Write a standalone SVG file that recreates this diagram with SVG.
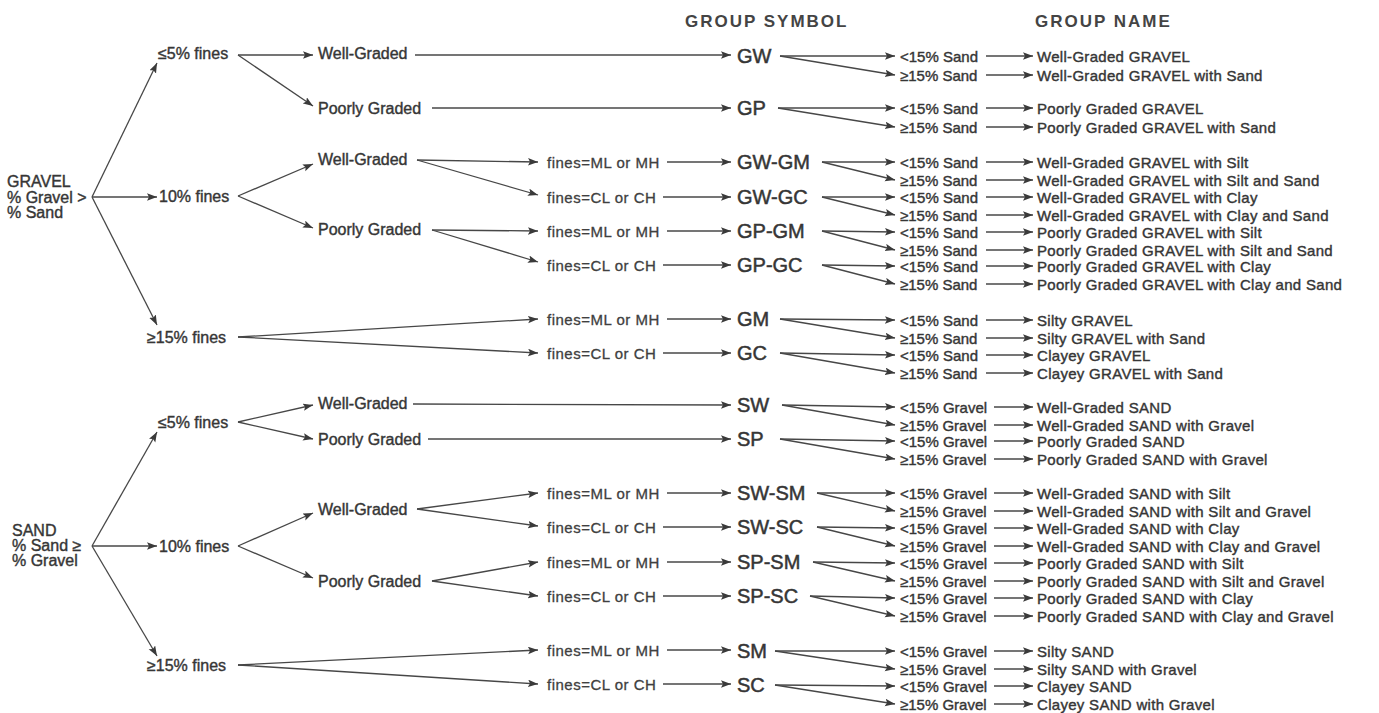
<svg xmlns="http://www.w3.org/2000/svg" width="1379" height="713" viewBox="0 0 1379 713">
<style>
text{font-family:"Liberation Sans",Arial,sans-serif;fill:#363636;stroke:#363636;stroke-width:0.4px}
.t16{font-size:16px}
.t15{font-size:15px}
.fn{font-size:15px;letter-spacing:0.5px;fill:#404040;stroke:#404040;stroke-width:0.3px}
.nm{font-size:15px;letter-spacing:0.3px}
.sym{font-size:20px;stroke-width:0.5px}
.hdr{font-size:17px;font-weight:bold;letter-spacing:2px;fill:#444;stroke:none}
#connectors path{stroke:#474747;stroke-width:1.3;fill:none}
#connectors path.a{marker-end:url(#ah)}
</style>
<defs>
<marker id="ah" markerUnits="userSpaceOnUse" markerWidth="11" markerHeight="8" refX="10" refY="3.75" orient="auto">
<path d="M0,0 L10,3.75 L0,7.5 L2,3.75 z" fill="#3a3a3a"/>
</marker>
</defs>
<rect width="1379" height="713" fill="#ffffff"/>
<g id="headers">
<text class="hdr" x="685" y="27">GROUP SYMBOL</text>
<text class="hdr" x="1035" y="27">GROUP NAME</text>
</g>
<g id="connectors">
<!-- level 0 -->
<path class="a" d="M92,197 L157,63"/>
<path class="a" d="M92,197 L157,197"/>
<path class="a" d="M92,197 L157,325"/>
<path class="a" d="M92,546 L157,432"/>
<path class="a" d="M92,546 L157,546"/>
<path class="a" d="M92,546 L157,656"/>
<!-- level 1 -->
<path class="a" d="M238,55 L313,55"/>
<path class="a" d="M238,55 L313,106"/>
<path class="a" d="M238,196 L313,164"/>
<path class="a" d="M238,196 L313,228"/>
<path class="a" d="M238,337 L538,319"/>
<path class="a" d="M238,337 L538,353"/>
<path class="a" d="M238,422 L313,405"/>
<path class="a" d="M238,422 L313,439"/>
<path class="a" d="M238,546 L313,513"/>
<path class="a" d="M238,546 L313,578"/>
<path class="a" d="M238,665 L538,650"/>
<path class="a" d="M238,665 L538,684"/>
<!-- level 2 -->
<path class="a" d="M415,55 L731,55"/>
<path class="a" d="M432,108 L731,108"/>
<path class="a" d="M417,160 L538,162"/>
<path class="a" d="M417,160 L538,195"/>
<path class="a" d="M432,230 L538,231"/>
<path class="a" d="M432,230 L538,262"/>
<path class="a" d="M413,404 L731,405"/>
<path class="a" d="M428,439 L731,439"/>
<path class="a" d="M417,509 L538,493"/>
<path class="a" d="M417,509 L538,526"/>
<path class="a" d="M432,581 L538,562"/>
<path class="a" d="M432,581 L538,596"/>
<!-- level 3 fines to symbol -->
<path class="a" d="M667,162 L731,162"/>
<path class="a" d="M663,197 L731,197"/>
<path class="a" d="M667,231 L731,231"/>
<path class="a" d="M663,265 L731,265"/>
<path class="a" d="M667,319 L731,319"/>
<path class="a" d="M663,353 L731,353"/>
<path class="a" d="M667,493 L731,493"/>
<path class="a" d="M663,527 L731,527"/>
<path class="a" d="M667,562 L731,562"/>
<path class="a" d="M663,596 L731,596"/>
<path class="a" d="M667,650 L731,650"/>
<path class="a" d="M663,684 L731,684"/>
<!-- level 4 symbol to sand/gravel percentage -->
<path class="a" d="M780,56 L895,56"/><path class="a" d="M780,56 L895,75"/>
<path class="a" d="M778,108 L895,108"/><path class="a" d="M778,108 L895,127"/>
<path class="a" d="M822,162 L895,162"/><path class="a" d="M822,162 L895,180"/>
<path class="a" d="M822,197 L895,197"/><path class="a" d="M822,197 L895,215"/>
<path class="a" d="M822,231 L895,232"/><path class="a" d="M822,231 L895,250"/>
<path class="a" d="M822,265 L895,266"/><path class="a" d="M822,265 L895,284"/>
<path class="a" d="M780,319 L895,320"/><path class="a" d="M780,319 L895,338"/>
<path class="a" d="M780,353 L895,355"/><path class="a" d="M780,353 L895,373"/>
<path class="a" d="M782,405 L895,407"/><path class="a" d="M782,405 L895,425"/>
<path class="a" d="M780,439 L895,441"/><path class="a" d="M780,439 L895,459"/>
<path class="a" d="M817,493 L895,493"/><path class="a" d="M817,493 L895,511"/>
<path class="a" d="M817,527 L895,528"/><path class="a" d="M817,527 L895,546"/>
<path class="a" d="M813,562 L895,563"/><path class="a" d="M813,562 L895,581"/>
<path class="a" d="M810,596 L895,598"/><path class="a" d="M810,596 L895,616"/>
<path class="a" d="M775,651 L895,651"/><path class="a" d="M775,651 L895,669"/>
<path class="a" d="M775,685 L895,686"/><path class="a" d="M775,685 L895,704"/>
<!-- level 5 percentage to group name -->
<path class="a" d="M986,56 L1033,56"/><path class="a" d="M986,75 L1033,75"/>
<path class="a" d="M986,108 L1033,108"/><path class="a" d="M986,127 L1033,127"/>
<path class="a" d="M986,162 L1033,162"/><path class="a" d="M986,180 L1033,180"/>
<path class="a" d="M986,197 L1033,197"/><path class="a" d="M986,215 L1033,215"/>
<path class="a" d="M986,232 L1033,232"/><path class="a" d="M986,250 L1033,250"/>
<path class="a" d="M986,266 L1033,266"/><path class="a" d="M986,284 L1033,284"/>
<path class="a" d="M986,320 L1033,320"/><path class="a" d="M986,338 L1033,338"/>
<path class="a" d="M986,355 L1033,355"/><path class="a" d="M986,373 L1033,373"/>
<path class="a" d="M994,407 L1033,407"/><path class="a" d="M994,425 L1033,425"/>
<path class="a" d="M994,441 L1033,441"/><path class="a" d="M994,459 L1033,459"/>
<path class="a" d="M994,493 L1033,493"/><path class="a" d="M994,511 L1033,511"/>
<path class="a" d="M994,528 L1033,528"/><path class="a" d="M994,546 L1033,546"/>
<path class="a" d="M994,563 L1033,563"/><path class="a" d="M994,581 L1033,581"/>
<path class="a" d="M994,598 L1033,598"/><path class="a" d="M994,616 L1033,616"/>
<path class="a" d="M994,651 L1033,651"/><path class="a" d="M994,669 L1033,669"/>
<path class="a" d="M994,686 L1033,686"/><path class="a" d="M994,704 L1033,704"/>
</g>
<!-- root nodes -->
<g id="n-gravel"><text class="t16" x="7" y="187">GRAVEL</text><text class="t16" x="7" y="203">% Gravel &gt;</text><text class="t16" x="7" y="218">% Sand</text></g>
<g id="n-sand"><text class="t16" x="12" y="536">SAND</text><text class="t16" x="12" y="551">% Sand ≥</text><text class="t16" x="12" y="566">% Gravel</text></g>
<!-- fines percentage -->
<g id="n-g-5"><text class="t16" x="158" y="59">≤5% fines</text></g>
<g id="n-g-10"><text class="t16" x="159" y="202">10% fines</text></g>
<g id="n-g-15"><text class="t16" x="147" y="343">≥15% fines</text></g>
<g id="n-s-5"><text class="t16" x="158" y="428">≤5% fines</text></g>
<g id="n-s-10"><text class="t16" x="159" y="552">10% fines</text></g>
<g id="n-s-15"><text class="t16" x="147" y="671">≥15% fines</text></g>
<!-- grading -->
<g id="n-g5-wg"><text class="t16" x="318" y="59">Well-Graded</text></g>
<g id="n-g5-pg"><text class="t16" x="318" y="114">Poorly Graded</text></g>
<g id="n-g10-wg"><text class="t16" x="318" y="165">Well-Graded</text></g>
<g id="n-g10-pg"><text class="t16" x="318" y="235">Poorly Graded</text></g>
<g id="n-s5-wg"><text class="t16" x="318" y="409">Well-Graded</text></g>
<g id="n-s5-pg"><text class="t16" x="318" y="445">Poorly Graded</text></g>
<g id="n-s10-wg"><text class="t16" x="318" y="515">Well-Graded</text></g>
<g id="n-s10-pg"><text class="t16" x="318" y="587">Poorly Graded</text></g>
<!-- fines type -->
<g id="n-f1"><text class="fn" x="547" y="167.5">fines=ML or MH</text></g>
<g id="n-f2"><text class="fn" x="547" y="202.5">fines=CL or CH</text></g>
<g id="n-f3"><text class="fn" x="547" y="236.5">fines=ML or MH</text></g>
<g id="n-f4"><text class="fn" x="547" y="270.5">fines=CL or CH</text></g>
<g id="n-f5"><text class="fn" x="547" y="324.5">fines=ML or MH</text></g>
<g id="n-f6"><text class="fn" x="547" y="358.5">fines=CL or CH</text></g>
<g id="n-f7"><text class="fn" x="547" y="498.5">fines=ML or MH</text></g>
<g id="n-f8"><text class="fn" x="547" y="532.5">fines=CL or CH</text></g>
<g id="n-f9"><text class="fn" x="547" y="567.5">fines=ML or MH</text></g>
<g id="n-f10"><text class="fn" x="547" y="601.5">fines=CL or CH</text></g>
<g id="n-f11"><text class="fn" x="547" y="655.5">fines=ML or MH</text></g>
<g id="n-f12"><text class="fn" x="547" y="689.5">fines=CL or CH</text></g>
<!-- group symbols -->
<g id="s-gw"><text class="sym" x="737" y="63">GW</text></g>
<g id="s-gp"><text class="sym" x="737" y="115">GP</text></g>
<g id="s-gwgm"><text class="sym" x="737" y="169">GW-GM</text></g>
<g id="s-gwgc"><text class="sym" x="737" y="204">GW-GC</text></g>
<g id="s-gpgm"><text class="sym" x="737" y="238">GP-GM</text></g>
<g id="s-gpgc"><text class="sym" x="737" y="272">GP-GC</text></g>
<g id="s-gm"><text class="sym" x="737" y="326">GM</text></g>
<g id="s-gc"><text class="sym" x="737" y="360">GC</text></g>
<g id="s-sw"><text class="sym" x="737" y="412">SW</text></g>
<g id="s-sp"><text class="sym" x="737" y="446">SP</text></g>
<g id="s-swsm"><text class="sym" x="737" y="500">SW-SM</text></g>
<g id="s-swsc"><text class="sym" x="737" y="534">SW-SC</text></g>
<g id="s-spsm"><text class="sym" x="737" y="569">SP-SM</text></g>
<g id="s-spsc"><text class="sym" x="737" y="603">SP-SC</text></g>
<g id="s-sm"><text class="sym" x="737" y="658">SM</text></g>
<g id="s-sc"><text class="sym" x="737" y="692">SC</text></g>
<!-- percentage of sand/gravel -->
<g id="p-gravel">
<text class="t15" x="900" y="61.5">&lt;15% Sand</text><text class="t15" x="900" y="80.5">≥15% Sand</text>
<text class="t15" x="900" y="113.5">&lt;15% Sand</text><text class="t15" x="900" y="132.5">≥15% Sand</text>
<text class="t15" x="900" y="167.5">&lt;15% Sand</text><text class="t15" x="900" y="185.5">≥15% Sand</text>
<text class="t15" x="900" y="202.5">&lt;15% Sand</text><text class="t15" x="900" y="220.5">≥15% Sand</text>
<text class="t15" x="900" y="237.5">&lt;15% Sand</text><text class="t15" x="900" y="255.5">≥15% Sand</text>
<text class="t15" x="900" y="271.5">&lt;15% Sand</text><text class="t15" x="900" y="289.5">≥15% Sand</text>
<text class="t15" x="900" y="325.5">&lt;15% Sand</text><text class="t15" x="900" y="343.5">≥15% Sand</text>
<text class="t15" x="900" y="360.5">&lt;15% Sand</text><text class="t15" x="900" y="378.5">≥15% Sand</text>
</g>
<g id="p-sand">
<text class="t15" x="900" y="412.5">&lt;15% Gravel</text><text class="t15" x="900" y="430.5">≥15% Gravel</text>
<text class="t15" x="900" y="446.5">&lt;15% Gravel</text><text class="t15" x="900" y="464.5">≥15% Gravel</text>
<text class="t15" x="900" y="498.5">&lt;15% Gravel</text><text class="t15" x="900" y="516.5">≥15% Gravel</text>
<text class="t15" x="900" y="533.5">&lt;15% Gravel</text><text class="t15" x="900" y="551.5">≥15% Gravel</text>
<text class="t15" x="900" y="568.5">&lt;15% Gravel</text><text class="t15" x="900" y="586.5">≥15% Gravel</text>
<text class="t15" x="900" y="603.5">&lt;15% Gravel</text><text class="t15" x="900" y="621.5">≥15% Gravel</text>
<text class="t15" x="900" y="656.5">&lt;15% Gravel</text><text class="t15" x="900" y="674.5">≥15% Gravel</text>
<text class="t15" x="900" y="691.5">&lt;15% Gravel</text><text class="t15" x="900" y="709.5">≥15% Gravel</text>
</g>
<!-- group names -->
<g id="names-gravel">
<text class="nm" x="1037" y="61.5">Well-Graded GRAVEL</text>
<text class="nm" x="1037" y="80.5">Well-Graded GRAVEL with Sand</text>
<text class="nm" x="1037" y="113.5">Poorly Graded GRAVEL</text>
<text class="nm" x="1037" y="132.5">Poorly Graded GRAVEL with Sand</text>
<text class="nm" x="1037" y="167.5">Well-Graded GRAVEL with Silt</text>
<text class="nm" x="1037" y="185.5">Well-Graded GRAVEL with Silt and Sand</text>
<text class="nm" x="1037" y="202.5">Well-Graded GRAVEL with Clay</text>
<text class="nm" x="1037" y="220.5">Well-Graded GRAVEL with Clay and Sand</text>
<text class="nm" x="1037" y="237.5">Poorly Graded GRAVEL with Silt</text>
<text class="nm" x="1037" y="255.5">Poorly Graded GRAVEL with Silt and Sand</text>
<text class="nm" x="1037" y="271.5">Poorly Graded GRAVEL with Clay</text>
<text class="nm" x="1037" y="289.5">Poorly Graded GRAVEL with Clay and Sand</text>
<text class="nm" x="1037" y="325.5">Silty GRAVEL</text>
<text class="nm" x="1037" y="343.5">Silty GRAVEL with Sand</text>
<text class="nm" x="1037" y="360.5">Clayey GRAVEL</text>
<text class="nm" x="1037" y="378.5">Clayey GRAVEL with Sand</text>
</g>
<g id="names-sand">
<text class="nm" x="1037" y="412.5">Well-Graded SAND</text>
<text class="nm" x="1037" y="430.5">Well-Graded SAND with Gravel</text>
<text class="nm" x="1037" y="446.5">Poorly Graded SAND</text>
<text class="nm" x="1037" y="464.5">Poorly Graded SAND with Gravel</text>
<text class="nm" x="1037" y="498.5">Well-Graded SAND with Silt</text>
<text class="nm" x="1037" y="516.5">Well-Graded SAND with Silt and Gravel</text>
<text class="nm" x="1037" y="533.5">Well-Graded SAND with Clay</text>
<text class="nm" x="1037" y="551.5">Well-Graded SAND with Clay and Gravel</text>
<text class="nm" x="1037" y="568.5">Poorly Graded SAND with Silt</text>
<text class="nm" x="1037" y="586.5">Poorly Graded SAND with Silt and Gravel</text>
<text class="nm" x="1037" y="603.5">Poorly Graded SAND with Clay</text>
<text class="nm" x="1037" y="621.5">Poorly Graded SAND with Clay and Gravel</text>
<text class="nm" x="1037" y="656.5">Silty SAND</text>
<text class="nm" x="1037" y="674.5">Silty SAND with Gravel</text>
<text class="nm" x="1037" y="691.5">Clayey SAND</text>
<text class="nm" x="1037" y="709.5">Clayey SAND with Gravel</text>
</g>
</svg>
